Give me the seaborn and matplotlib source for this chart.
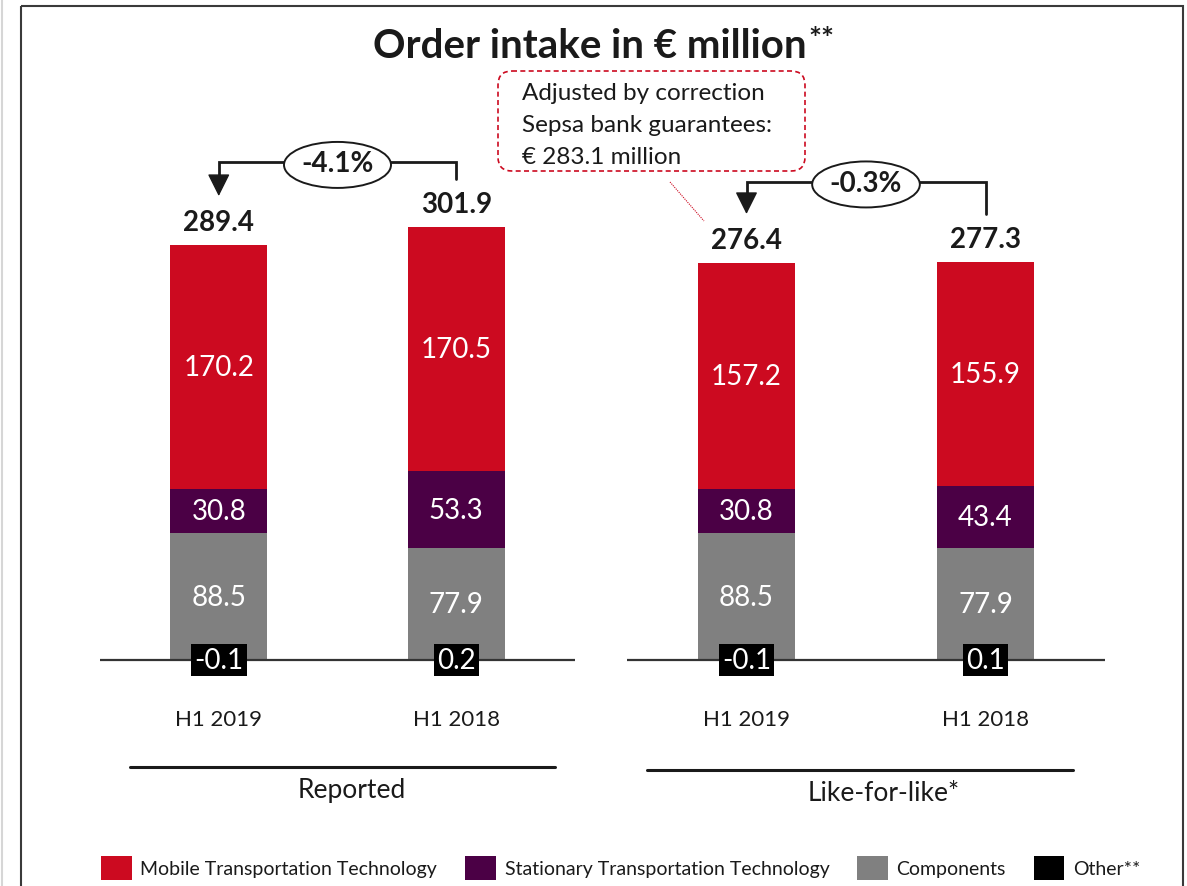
import numpy as np
import pandas as pd
import matplotlib
matplotlib.use("Agg")
import matplotlib.pyplot as plt
import seaborn as sns
from matplotlib.patches import Patch, FancyBboxPatch, Rectangle, Ellipse
from matplotlib.lines import Line2D

# ---------------- data ----------------
periods = ["H1 2019", "H1 2018"]
panel_titles = ["Reported", "Like-for-like*"]
segment_names = ["Mobile Transportation Technology",
                 "Stationary Transportation Technology",
                 "Components", "Other**"]

mobile_reported = [170.2, 170.5]
stationary_reported = [30.8, 53.3]
components_reported = [88.5, 77.9]
other_reported = [-0.1, 0.2]
total_reported = [289.4, 301.9]
change_reported = "-4.1%"

mobile_lfl = [157.2, 155.9]
stationary_lfl = [30.8, 43.4]
components_lfl = [88.5, 77.9]
other_lfl = [-0.1, 0.1]
total_lfl = [276.4, 277.3]
change_lfl = "-0.3%"

note_lines = ["Adjusted by correction", "Sepsa bank guarantees:", "€ 283.1 million"]
title_text = "Order intake in € million"

# ---------------- style ----------------
sns.set_theme(style="white")
plt.rcParams["font.family"] = ["Lato", "DejaVu Sans"]

RED = "#CC0A20"
PURPLE = "#4B0045"
GRAY = "#808080"
BLACK = "#000000"
INK = "#1a1a1a"
seg_colors = [RED, PURPLE, GRAY, BLACK]

W, H = 1187, 887
fig = plt.figure(figsize=(W / 100, H / 100), dpi=100)

PX_PER_UNIT = 1.435
BASE_PX = 661
AX_TOP_PX, AX_BOT_PX = 120, 700


def add_panel(x0, x1):
    ax = fig.add_axes([x0 / W, 1 - AX_BOT_PX / H, (x1 - x0) / W, (AX_BOT_PX - AX_TOP_PX) / H])
    ax.set_ylim(-(AX_BOT_PX - BASE_PX) / PX_PER_UNIT, (BASE_PX - AX_TOP_PX) / PX_PER_UNIT)
    return ax


def draw_panel(ax, mobile, stationary, components, other, totals, change, levels):
    df = pd.DataFrame({"period": periods, "mobile": mobile, "stationary": stationary,
                       "components": components, "other": other})
    oth = np.array(other)
    base_comp = np.clip(oth, 0, None)
    base_stat = base_comp + np.array(components)
    base_mob = base_stat + np.array(stationary)
    bw = 0.41
    common = dict(data=df, x="period", order=periods, width=bw, saturation=1,
                  errorbar=None, ax=ax, linewidth=0)
    sns.barplot(y="other", color=BLACK, **common)
    sns.barplot(y="components", color=GRAY, bottom=base_comp, **common)
    sns.barplot(y="stationary", color=PURPLE, bottom=base_stat, **common)
    sns.barplot(y="mobile", color=RED, bottom=base_mob, **common)

    ax.set_xlim(-0.5, 1.5)
    ax.set_xlabel("")
    ax.set_ylabel("")
    ax.set_yticks([])
    ax.tick_params(axis="x", length=0, pad=7, labelsize=16, labelcolor=INK)
    for s in ax.spines.values():
        s.set_visible(False)
    ax.axhline(0, color="#333333", lw=1.6, zorder=1)

    for i in range(len(periods)):
        ax.text(i, base_comp[i] + components[i] / 2, f"{components[i]:.1f}",
                ha="center", va="center", color="white", fontsize=20)
        ax.text(i, base_stat[i] + stationary[i] / 2, f"{stationary[i]:.1f}",
                ha="center", va="center", color="white", fontsize=20)
        ax.text(i, base_mob[i] + mobile[i] / 2, f"{mobile[i]:.1f}",
                ha="center", va="center", color="white", fontsize=20)
        ax.text(i, 0, f"{other[i]:.1f}", ha="center", va="center", color="white",
                fontsize=20, zorder=5,
                bbox=dict(boxstyle="square,pad=0.12", fc=BLACK, ec="none"))
        top = base_mob[i] + mobile[i]
        ax.annotate(f"{totals[i]:.1f}", xy=(i, top), xytext=(0, 16.5),
                    textcoords="offset points", ha="center", va="center",
                    fontsize=20, fontweight="bold", color=INK)

    # change connector from the prior-year bar to the current-year bar
    y_start, y_h, y_tip = levels
    ax.add_line(Line2D([1, 1, 0, 0], [y_start, y_h, y_h, y_tip + 10], color=INK, lw=2,
                       solid_joinstyle="miter", clip_on=False))
    ax.annotate("", xy=(0, y_tip), xytext=(0, y_tip + 12),
                arrowprops=dict(arrowstyle="-|>,head_length=0.7,head_width=0.35",
                                color=INK, lw=1, shrinkA=0, shrinkB=0,
                                mutation_scale=20))
    ax.add_patch(Ellipse((0.5, y_h - 2), 107 / 237.5, 46 / PX_PER_UNIT, fc="white",
                         ec=INK, lw=1.4, zorder=5, clip_on=False))
    ax.text(0.5, y_h - 1, change, ha="center", va="center", fontsize=20,
            fontweight="bold", color=INK, zorder=6)


ax_l = add_panel(100, 575)
ax_r = add_panel(627, 1105)
draw_panel(ax_l, mobile_reported, stationary_reported, components_reported,
           other_reported, total_reported, change_reported, (335, 347, 323.3))
draw_panel(ax_r, mobile_lfl, stationary_lfl, components_lfl,
           other_lfl, total_lfl, change_lfl, (310.8, 333.4, 310.8))

# ---------------- overlay in pixel space ----------------
ov = fig.add_axes([0, 0, 1, 1])
ov.set_xlim(0, W)
ov.set_ylim(H, 0)
ov.axis("off")

ov.add_patch(Rectangle((21, 7), 1183 - 21, 900, fill=False, ec="#3a3a3a", lw=1.5, clip_on=False))
ov.add_line(Line2D([2, 2], [0, H], color="#d6d6d6", lw=1.5))

t = ov.text(590, 46, title_text, ha="center", va="center", fontsize=29,
            fontweight="bold", color=INK)
ov.annotate("**", xy=(1, 1), xycoords=t, xytext=(1, 1), textcoords="offset points",
            ha="left", va="top", fontsize=22, fontweight="bold", color=INK)

# correction note
ov.add_patch(FancyBboxPatch((498, 72), 307, 100, boxstyle="round,pad=0,rounding_size=14",
                            fill=True, fc="white", ec=RED, lw=1.2, ls=(0, (3, 2))))
for k, line in enumerate(note_lines):
    ov.text(522, 94 + 32 * k, line, ha="left", va="center", fontsize=17.5, color=INK)
ov.add_line(Line2D([670, 704], [183, 222], color=RED, lw=0.8, ls=(0, (1, 1))))

# group captions with rules
for (x0, x1, ly, cx, cy, label) in [(130, 555, 768, 352, 791, panel_titles[0]),
                                    (647, 1073, 771, 884, 794, panel_titles[1])]:
    ov.add_line(Line2D([x0, x1], [ly, ly], color=INK, lw=2.2))
    ov.text(cx, cy, label, ha="center", va="center", fontsize=19, color=INK)

handles = [Patch(facecolor=c, edgecolor="none", label=n) for c, n in zip(seg_colors, segment_names)]
fig.legend(handles=handles, loc="center", bbox_to_anchor=(621 / W, 1 - 869 / H), ncol=4,
           frameon=False, fontsize=14, handlelength=1.55, handleheight=1.55,
           handletextpad=0.46, columnspacing=1.45, labelcolor=INK)

fig.savefig("out.png", dpi=100)
